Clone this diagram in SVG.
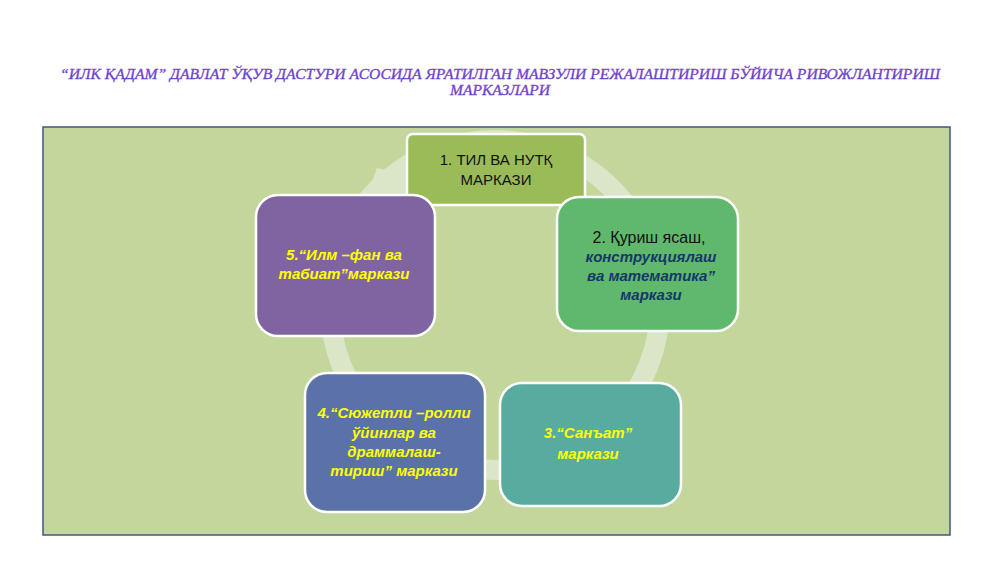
<svg xmlns="http://www.w3.org/2000/svg" width="1000" height="562" viewBox="0 0 1000 562">
  <defs>
    <linearGradient id="titleGrad" x1="0" y1="0" x2="0" y2="1">
      <stop offset="0" stop-color="#9a4fd8"/>
      <stop offset="1" stop-color="#4a36c4"/>
    </linearGradient>
    <style>
      .title { font-family: "Liberation Serif", "DejaVu Serif", serif; font-style: italic; font-size: 15px; fill: url(#titleGrad); stroke: #6a3cc8; stroke-width: 0.3; }
      .node { stroke: #ffffff; stroke-width: 2.5; }
      .t { font-family: "Liberation Sans", "DejaVu Sans", sans-serif; font-size: 15px; text-anchor: middle; }
      .reg { fill: #111111; }
      .navy { fill: #15376b; font-weight: bold; font-style: italic; }
      .yel { fill: #ffff00; font-weight: bold; font-style: italic; }
      .ring { fill: none; stroke: #dbe6c9; stroke-width: 20; }
    </style>
  </defs>

  <rect x="0" y="0" width="1000" height="562" fill="#ffffff"/>

  <g id="title">
    <text class="title" x="60" y="79" textLength="880" lengthAdjust="spacingAndGlyphs">“ИЛК ҚАДАМ” ДАВЛАТ ЎҚУВ ДАСТУРИ АСОСИДА ЯРАТИЛГАН МАВЗУЛИ РЕЖАЛАШТИРИШ БЎЙИЧА РИВОЖЛАНТИРИШ</text>
    <text class="title" x="500" y="95" text-anchor="middle" textLength="100" lengthAdjust="spacingAndGlyphs">МАРКАЗЛАРИ</text>
  </g>

  <g id="panel">
    <rect x="43" y="127" width="907" height="408" fill="#c3d69b" stroke="#3f5a7e" stroke-width="1.5"/>
  </g>

  <g id="connectors">
    <circle class="ring" cx="495" cy="305" r="165"/>
    <polygon points="377,168 432,182 410,202 366,198" fill="#dbe6c9"/>
  </g>

  <g id="node1">
    <rect class="node" x="407" y="134" width="178" height="71" rx="6" fill="#9bbb59" stroke="#eef4dc"/>
    <text class="t reg" x="496" y="165">1. ТИЛ ВА НУТҚ</text>
    <text class="t reg" x="496" y="185">МАРКАЗИ</text>
  </g>

  <g id="node2">
    <rect class="node" x="557" y="197" width="181" height="134" rx="22" fill="#60b86c"/>
    <text class="t reg" x="649" y="243" style="font-size:16px">2. Қуриш ясаш,</text>
    <text class="t navy" x="651" y="262">конструкциялаш</text>
    <text class="t navy" x="651" y="281">ва математика”</text>
    <text class="t navy" x="651" y="300">маркази</text>
  </g>

  <g id="node3">
    <rect class="node" x="500" y="383" width="181" height="123" rx="22" fill="#58ab9f"/>
    <text class="t yel" x="588" y="438">3.“Санъат”</text>
    <text class="t yel" x="588" y="459">маркази</text>
  </g>

  <g id="node4">
    <rect class="node" x="305" y="373" width="180" height="139" rx="22" fill="#5a72a8"/>
    <text class="t yel" x="394" y="418">4.“Сюжетли –ролли</text>
    <text class="t yel" x="394" y="438">ўйинлар ва</text>
    <text class="t yel" x="394" y="457">драммалаш-</text>
    <text class="t yel" x="394" y="476">тириш” маркази</text>
  </g>

  <g id="node5">
    <rect class="node" x="256" y="195" width="179" height="141" rx="22" fill="#8064a2"/>
    <text class="t yel" x="344" y="260">5.“Илм –фан ва</text>
    <text class="t yel" x="344" y="279">табиат”маркази</text>
  </g>
</svg>
